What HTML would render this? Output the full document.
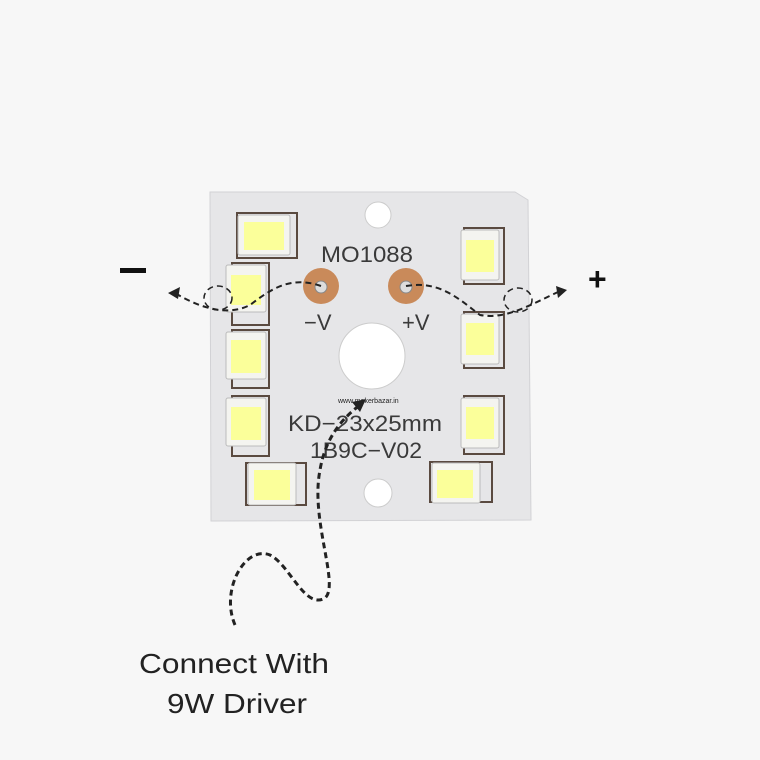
<!DOCTYPE html>
<html><head><style>body{margin:0;background:#f7f7f7}svg{display:block}</style></head><body>
<svg width="760" height="760" viewBox="0 0 760 760" xmlns="http://www.w3.org/2000/svg" font-family="Liberation Sans, sans-serif">
<rect width="760" height="760" fill="#f7f7f7"/>
<path d="M210 192 L515 192 L528 200 L531 520 L211 521 Z" fill="#e6e6e8" stroke="#d2d2d5"/>
<circle cx="378" cy="215" r="13" fill="#fff" stroke="#ccc"/>
<circle cx="372" cy="356" r="33" fill="#fff" stroke="#ccc"/>
<circle cx="378" cy="493" r="14" fill="#fff" stroke="#ccc"/>
<g fill="none" stroke="#5a4a40" stroke-width="2">
<rect x="237" y="213" width="60" height="45"/>
<rect x="232" y="263" width="37" height="62"/>
<rect x="232" y="330" width="37" height="58"/>
<rect x="232" y="396" width="37" height="60"/>
<rect x="246" y="463" width="60" height="42"/>
<rect x="464" y="228" width="40" height="56"/>
<rect x="464" y="312" width="40" height="56"/>
<rect x="464" y="396" width="40" height="58"/>
<rect x="430" y="462" width="62" height="40"/>
</g>
<g fill="#f4f4f0" stroke="#bbb">
<rect x="238" y="215" width="52" height="40" rx="2"/>
<rect x="226" y="265" width="40" height="47" rx="2"/>
<rect x="226" y="332" width="40" height="47" rx="2"/>
<rect x="226" y="398" width="40" height="48" rx="2"/>
<rect x="248" y="463" width="48" height="42" rx="2"/>
<rect x="461" y="230" width="38" height="50" rx="2"/>
<rect x="461" y="314" width="38" height="50" rx="2"/>
<rect x="461" y="398" width="38" height="50" rx="2"/>
<rect x="432" y="463" width="48" height="40" rx="2"/>
</g>
<g fill="#fbff9a">
<rect x="244" y="222" width="40" height="28"/>
<rect x="231" y="275" width="30" height="30"/>
<rect x="231" y="340" width="30" height="33"/>
<rect x="231" y="407" width="30" height="33"/>
<rect x="254" y="470" width="36" height="30"/>
<rect x="466" y="240" width="28" height="32"/>
<rect x="466" y="323" width="28" height="32"/>
<rect x="466" y="407" width="28" height="32"/>
<rect x="437" y="470" width="36" height="28"/>
</g>
<circle cx="321" cy="286" r="18" fill="#c98a5a"/><circle cx="321" cy="287" r="6" fill="#ddd" stroke="#888"/>
<circle cx="406" cy="286" r="18" fill="#c98a5a"/><circle cx="406" cy="287" r="6" fill="#ddd" stroke="#888"/>
<g fill="#3a3a3a" font-size="22">
<text x="321" y="262" textLength="92" lengthAdjust="spacingAndGlyphs">MO1088</text>
<text x="304" y="330">−V</text>
<text x="402" y="330">+V</text>
<text x="288" y="431" textLength="154" lengthAdjust="spacingAndGlyphs">KD−23x25mm</text>
<text x="310" y="458" textLength="112" lengthAdjust="spacingAndGlyphs">1B9C−V02</text>
</g>
<text x="338" y="403" font-size="7" fill="#222">www.makerbazar.in</text>
<g fill="none" stroke="#222" stroke-width="2" stroke-dasharray="6 4">
<path d="M321 286 C290 275 270 290 250 305 C225 318 195 305 175 293"/>
<path d="M406 286 C440 280 460 300 480 315 C505 320 530 305 558 292"/>
<ellipse cx="218" cy="298" rx="14" ry="12" stroke-width="1.5"/>
<ellipse cx="518" cy="300" rx="14" ry="12" stroke-width="1.5"/>
<path d="M235 625 C220 590 245 545 270 555 C290 565 305 610 325 598 C340 585 310 520 320 470 C325 440 340 420 360 405" stroke-width="3"/>
</g>
<path d="M168 293 L180 287 L178 299 Z" fill="#222"/>
<path d="M567 290 L556 286 L558 298 Z" fill="#222"/>
<path d="M366 399 L352 402 L360 412 Z" fill="#222"/>
<rect x="120" y="268" width="26" height="5" fill="#111"/>
<text x="588" y="290" font-size="32" font-weight="bold" fill="#111">+</text>
<text x="234" y="673" font-size="28" fill="#222" text-anchor="middle" textLength="190" lengthAdjust="spacingAndGlyphs">Connect With</text>
<text x="237" y="713" font-size="28" fill="#222" text-anchor="middle" textLength="140" lengthAdjust="spacingAndGlyphs">9W Driver</text>
</svg>
</body></html>
